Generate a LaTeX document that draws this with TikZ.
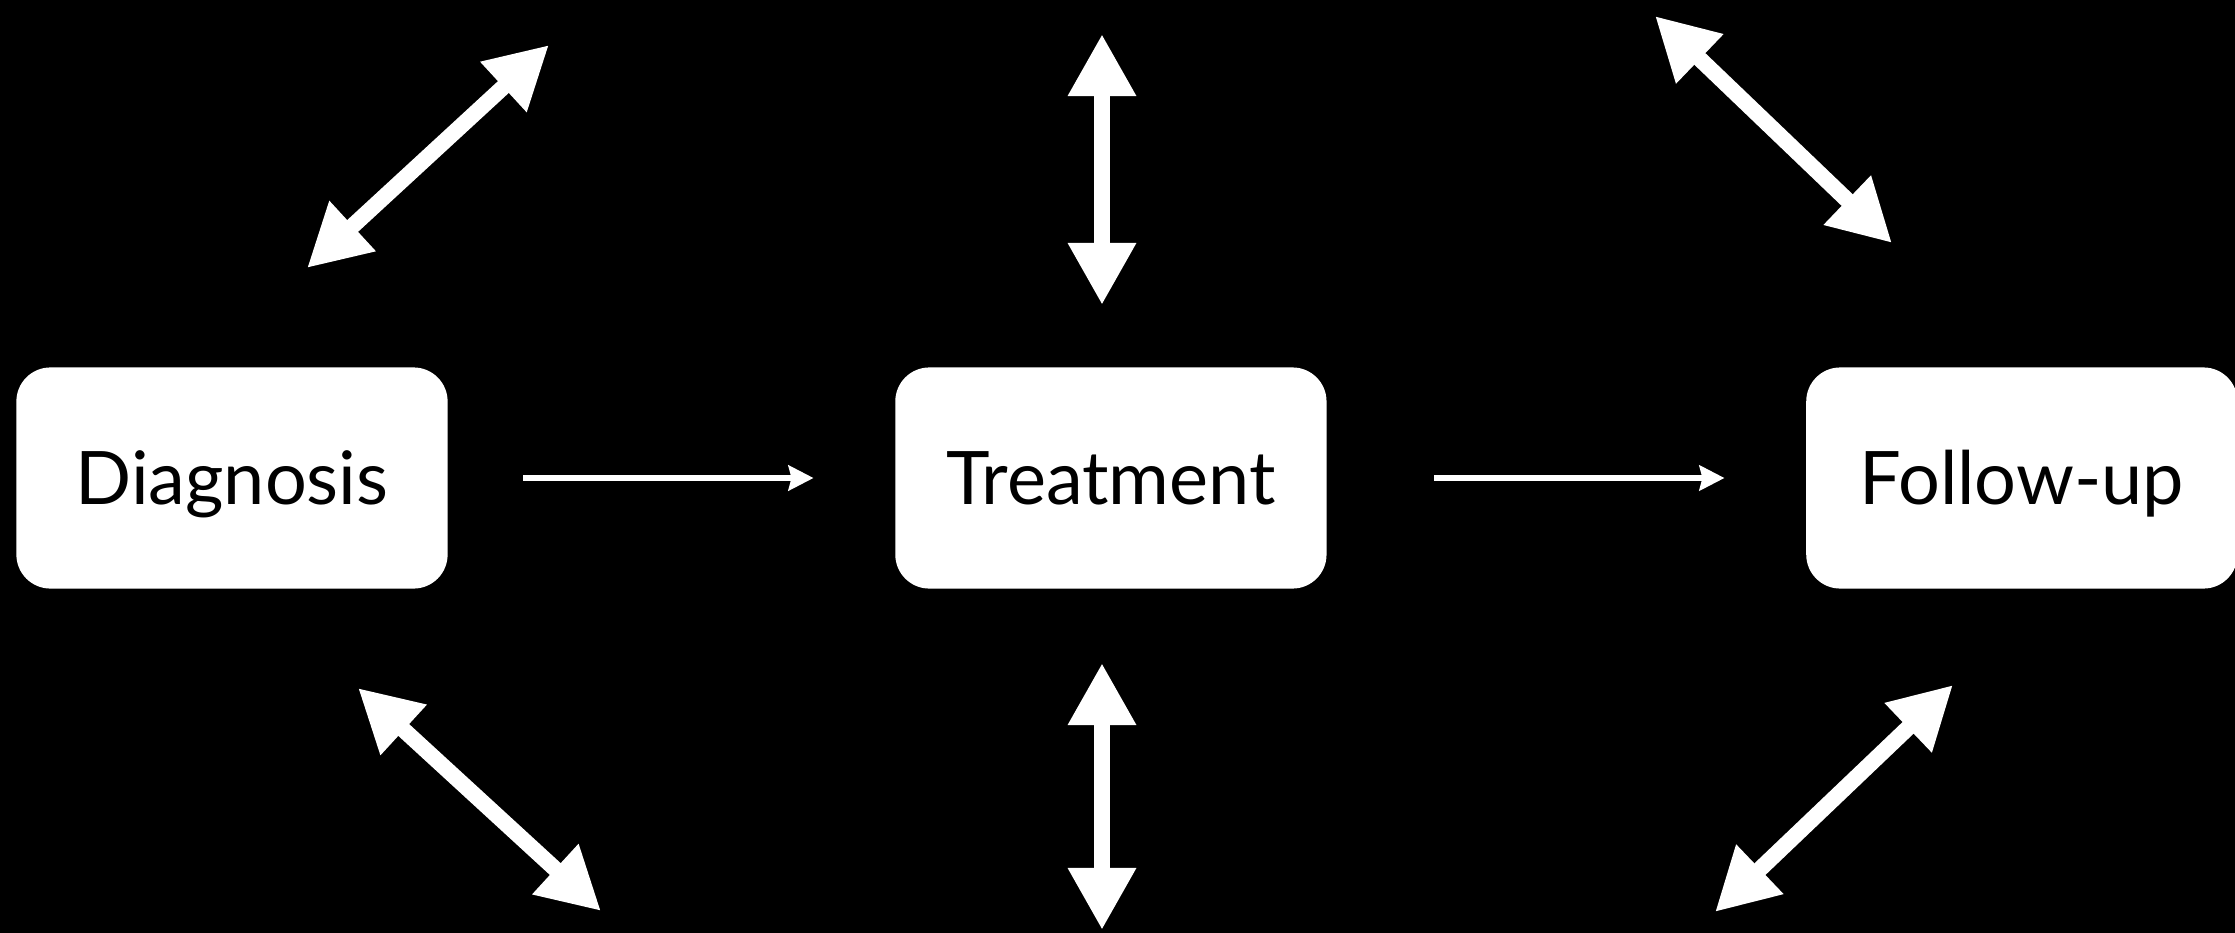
\documentclass[tikz,border=0pt]{standalone}
\usepackage{fontspec}
\setsansfont{Lato}
\usepackage{tikz}
\usetikzlibrary{arrows.meta,positioning}

\begin{document}
\begin{tikzpicture}[
    x=0.01cm, y=-0.01cm,
    stage/.style={rectangle, rounded corners=0.34cm, minimum width=4.31cm, minimum height=2.21cm, inner sep=0pt, text height=15pt, text depth=0pt, text centered, fill=white, font=\sffamily\fontsize{21}{25}\selectfont},
    arrow/.style={draw=white, line width=0.06cm, -{Stealth[length=0.25cm, width=0.25cm, inset=0.03cm]}},
    link/.style={draw=white, line width=0.16cm, {Triangle[length=0.62cm, width=0.64cm]}-{Triangle[length=0.62cm, width=0.64cm]}}
]
    \useasboundingbox (0,0) rectangle (2235,933);
    \fill[black] (0,0) rectangle (2235,933);

    \node[stage] (diag) at (232,478) {Diagnosis};
    \node[stage, right=4.46cm of diag] (treat) {Treatment};
    \node[stage, right=4.78cm of treat] (follow) {Follow-up};

    \coordinate (diagUpA) at (307,268);
    \coordinate (diagUpB) at (549,45);
    \coordinate (treatUpA) at (1102,305);
    \coordinate (treatUpB) at (1102,34);
    \coordinate (followUpA) at (1892,243);
    \coordinate (followUpB) at (1655,16);
    \coordinate (diagDownA) at (358,688);
    \coordinate (diagDownB) at (601,911);
    \coordinate (treatDownA) at (1102,663);
    \coordinate (treatDownB) at (1102,930);
    \coordinate (followDownA) at (1953,685);
    \coordinate (followDownB) at (1715,912);

    \draw[arrow] ([xshift=0.75cm]diag.east) -- ([xshift=-0.81cm]treat.west);
    \draw[arrow] ([xshift=1.07cm]treat.east) -- ([xshift=-0.81cm]follow.west);

    \draw[link] (diagUpA) -- (diagUpB);
    \draw[link] (treatUpA) -- (treatUpB);
    \draw[link] (followUpA) -- (followUpB);
    \draw[link] (diagDownA) -- (diagDownB);
    \draw[link] (treatDownA) -- (treatDownB);
    \draw[link] (followDownA) -- (followDownB);

\end{tikzpicture}
\end{document}
